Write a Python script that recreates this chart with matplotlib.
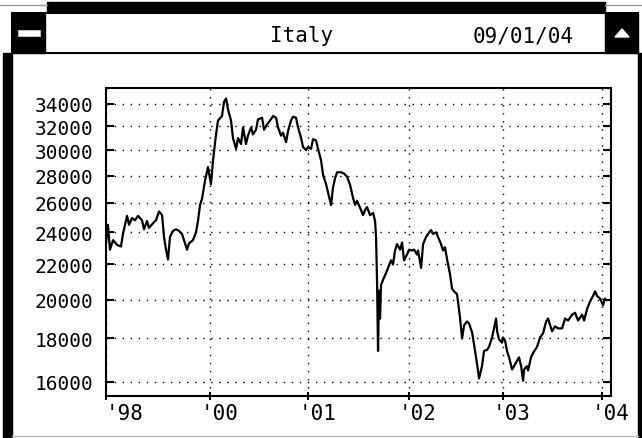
import matplotlib
matplotlib.use("Agg")
import matplotlib.pyplot as plt
import matplotlib.transforms as mtransforms
from matplotlib.patches import Rectangle, Polygon
from matplotlib.ticker import FixedLocator, NullLocator

# index level (weekly, decimal years)
dates = [1999.000, 1999.020, 1999.040, 1999.071, 1999.111, 1999.151, 1999.171, 1999.212,
         1999.232, 1999.262, 1999.292, 1999.323, 1999.363, 1999.383, 1999.413, 1999.433,
         1999.474, 1999.504, 1999.534, 1999.565, 1999.585, 1999.605, 1999.625, 1999.645,
         1999.675, 1999.706, 1999.736, 1999.766, 1999.786, 1999.817, 1999.837, 1999.877,
         1999.907, 1999.927, 1999.948, 1999.968, 1999.998, 2000.028, 2000.058, 2000.079,
         2000.109, 2000.129, 2000.169, 2000.190, 2000.210, 2000.230, 2000.260, 2000.280,
         2000.311, 2000.331, 2000.361, 2000.381, 2000.411, 2000.431, 2000.462, 2000.482,
         2000.512, 2000.532, 2000.573, 2000.593, 2000.623, 2000.653, 2000.684, 2000.714,
         2000.734, 2000.764, 2000.784, 2000.815, 2000.835, 2000.865, 2000.885, 2000.915,
         2000.936, 2000.966, 2000.986, 2001.016, 2001.036, 2001.067, 2001.087, 2001.117,
         2001.137, 2001.167, 2001.188, 2001.218, 2001.238, 2001.268, 2001.288, 2001.309,
         2001.329, 2001.369, 2001.399, 2001.430, 2001.460, 2001.490, 2001.510, 2001.530,
         2001.561, 2001.591, 2001.611, 2001.631, 2001.661, 2001.692, 2001.712, 2001.722,
         2001.732, 2001.742, 2001.752, 2001.762, 2001.772, 2001.792, 2001.823, 2001.843,
         2001.873, 2001.893, 2001.913, 2001.934, 2001.964, 2001.984, 2002.004, 2002.034,
         2002.055, 2002.085, 2002.105, 2002.135, 2002.145, 2002.176, 2002.196, 2002.226,
         2002.246, 2002.276, 2002.296, 2002.327, 2002.347, 2002.377, 2002.397, 2002.417,
         2002.438, 2002.468, 2002.488, 2002.508, 2002.538, 2002.548, 2002.569, 2002.589,
         2002.609, 2002.639, 2002.659, 2002.690, 2002.710, 2002.740, 2002.760, 2002.790,
         2002.810, 2002.841, 2002.861, 2002.891, 2002.911, 2002.932, 2002.942, 2002.962,
         2002.992, 2003.002, 2003.022, 2003.042, 2003.063, 2003.093, 2003.113, 2003.143,
         2003.163, 2003.184, 2003.204, 2003.214, 2003.244, 2003.254, 2003.284, 2003.304,
         2003.345, 2003.375, 2003.405, 2003.436, 2003.456, 2003.496, 2003.526, 2003.557,
         2003.597, 2003.627, 2003.657, 2003.698, 2003.728, 2003.758, 2003.799, 2003.819,
         2003.849, 2003.879, 2003.909, 2003.930, 2003.950, 2003.980, 2004.010, 2004.030]
values = [23300, 24500, 22900, 23500, 23200, 23100, 23900, 25100,
          24500, 24950, 24800, 25100, 24800, 24200, 24750, 24300,
          24600, 24800, 25400, 25150, 23700, 22900, 22300, 23700,
          24100, 24200, 24100, 23900, 23500, 22900, 23300, 23500,
          24000, 24750, 25850, 26300, 27600, 28650, 27350, 29200,
          31300, 32500, 32900, 34200, 34500, 33500, 32500, 31000,
          30100, 31000, 30500, 31900, 30500, 31200, 31900, 31300,
          31700, 32600, 32750, 31700, 32150, 32500, 32900, 32750,
          31900, 31200, 31450, 30650, 31600, 32500, 32850, 32750,
          31900, 31000, 30250, 30000, 30250, 30100, 30900, 30800,
          30100, 29200, 28050, 27350, 26750, 25850, 27100, 27800,
          28250, 28250, 28150, 27900, 27300, 26350, 25850, 26150,
          25650, 25150, 25500, 25700, 25150, 25300, 24750, 23700,
          21000, 17400, 20500, 19000, 20800, 21100, 21500, 21800,
          22250, 22000, 22850, 23250, 22900, 23350, 22250, 22600,
          22900, 22850, 22900, 22600, 22850, 21800, 23250, 23700,
          23900, 24150, 23900, 24000, 23700, 23250, 22850, 23050,
          22300, 21400, 20600, 20450, 20300, 19900, 19000, 18000,
          18650, 18850, 18750, 18300, 17700, 16800, 16150, 16700,
          17400, 17450, 17600, 18050, 18500, 19000, 18350, 17950,
          17800, 18050, 17900, 17400, 17100, 16550, 16700, 16950,
          17100, 16700, 16050, 16550, 16700, 16500, 17100, 17300,
          17600, 18050, 18250, 18850, 19000, 18350, 18600, 18500,
          18500, 19000, 18900, 19200, 19300, 18900, 19200, 18900,
          19500, 19900, 20200, 20450, 20200, 20050, 19700, 20050]

yticks = [16000, 18000, 20000, 22000, 24000, 26000, 28000, 30000, 32000, 34000]
xtick_pos = [1999.0, 2000.05, 2001.04, 2002.05, 2003.0, 2004.0]
xtick_labels = ["'98", "'00", "'01", "'02", "'03", "'04"]
title = "Italy"
stamp = "09/01/04"

mono = "DejaVu Sans Mono"

fig = plt.figure(figsize=(6.42, 4.39), dpi=100)
fig.patch.set_facecolor("white")

# window frame drawn in pixel units
chrome = fig.add_axes([0, 0, 1, 1])
chrome.set_xlim(0, 642)
chrome.set_ylim(439, 0)
chrome.axis("off")
chrome.plot([0, 47], [6, 6], color="#999999", lw=1)
chrome.plot([605, 642], [6, 6], color="#999999", lw=1)
chrome.add_patch(Rectangle((47, 3), 558, 9, color="black"))
chrome.add_patch(Rectangle((12, 14), 626, 40, facecolor="white", edgecolor="black", lw=1.5))
chrome.add_patch(Rectangle((12, 14), 33, 40, color="black"))
chrome.add_patch(Rectangle((18, 31), 22, 6, facecolor="white", edgecolor="#bbbbbb", lw=0.8))
chrome.add_patch(Rectangle((605, 14), 33, 40, color="black"))
chrome.add_patch(Polygon([(615, 38), (629, 38), (622, 30)], closed=True, color="white"))
chrome.add_patch(Rectangle((3, 54), 9, 385, color="black"))
chrome.add_patch(Rectangle((638, 54), 4, 385, color="black"))
chrome.plot([12, 638], [437, 437], color="#bbbbbb", lw=1)
chrome.text(302, 36, title, ha="center", va="center", family=mono, fontsize=15)
chrome.text(523, 36, stamp, ha="center", va="center", family=mono, fontsize=15)

ax = fig.add_axes([106 / 642, 42 / 439, 505 / 642, 308 / 439])
ax.plot(dates, values, color="black", lw=1.6, zorder=3)
ax.set_yscale("log")
ax.set_ylim(15400, 35500)
ax.set_xlim(1999.0, 2004.09)

ax.yaxis.set_major_locator(FixedLocator(yticks))
ax.yaxis.set_minor_locator(NullLocator())
ax.set_yticklabels([str(v) for v in yticks])
ax.set_xticks(xtick_pos)
ax.set_xticklabels(xtick_labels)

ax.grid(True, color="black", linestyle=(0, (1, 4.8)), linewidth=1.0)
ax.set_axisbelow(True)
for s in ax.spines.values():
    s.set_linewidth(1.5)

ax.tick_params(axis="y", direction="in", length=6, width=1.5, right=True,
               labelsize=14, pad=9)
ax.tick_params(axis="x", direction="inout", length=6, width=1.5,
               labelsize=15, pad=2)
for lab in ax.get_yticklabels():
    lab.set_family(mono)
for i, lab in enumerate(ax.get_xticklabels()):
    lab.set_family(mono)
    lab.set_ha("left")
    dx = 0 if i == 0 else -0.1
    lab.set_transform(lab.get_transform() + mtransforms.ScaledTranslation(dx, 0, fig.dpi_scale_trans))

fig.savefig("out.png", dpi=100)
